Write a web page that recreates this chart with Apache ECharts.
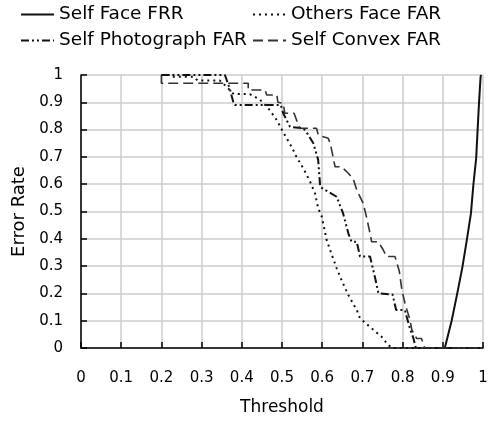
<!DOCTYPE html>
<html>
<head>
<meta charset="utf-8">
<script src="https://cdn.jsdelivr.net/npm/echarts@6/dist/echarts.min.js"></script>
<style>html,body{margin:0;padding:0;background:#fff}#c{width:492px;height:421px}</style>
</head>
<body>
<div id="c"></div>
<script>
var seriesNames = ['Self Face FRR', 'Others Face FAR', 'Self Photograph FAR', 'Self Convex FAR'];
var tickLabelsX = ['0','0.1','0.2','0.3','0.4','0.5','0.6','0.7','0.8','0.9','1'];

var selfFaceFRR = [[0.88,0],[0.905,0],[0.922,0.1],[0.936,0.2],[0.949,0.298],[0.959,0.389],[0.970,0.493],[0.976,0.597],[0.983,0.695],[0.990,0.896],[0.994,0.994],[0.995,1]];

var othersFaceFAR = [[0.2,1],[0.22,1],[0.225,0.994],[0.28,0.994],[0.29,0.98],[0.345,0.98],[0.36,0.96],[0.38,0.93],[0.42,0.93],[0.445,0.91],[0.462,0.884],[0.47,0.87],[0.487,0.835],[0.503,0.79],[0.524,0.737],[0.536,0.70],[0.553,0.658],[0.57,0.609],[0.582,0.567],[0.59,0.512],[0.599,0.481],[0.611,0.396],[0.624,0.341],[0.636,0.292],[0.648,0.249],[0.665,0.194],[0.686,0.139],[0.694,0.109],[0.723,0.072],[0.748,0.041],[0.764,0.011],[0.775,0],[1,0]];

var selfPhotoFAR = [[0.2,1],[0.358,1],[0.37,0.95],[0.379,0.9],[0.383,0.89],[0.497,0.89],[0.503,0.86],[0.52,0.81],[0.524,0.805],[0.553,0.805],[0.561,0.79],[0.578,0.75],[0.59,0.689],[0.595,0.59],[0.607,0.579],[0.636,0.554],[0.652,0.493],[0.665,0.42],[0.673,0.389],[0.686,0.389],[0.694,0.335],[0.719,0.335],[0.731,0.261],[0.74,0.2],[0.744,0.196],[0.775,0.196],[0.784,0.139],[0.806,0.139],[0.81,0.115],[0.817,0.078],[0.827,0.035],[0.833,0],[1,0]];

var selfConvexFAR = [[0.2,1],[0.2,0.97],[0.416,0.97],[0.416,0.945],[0.458,0.945],[0.462,0.927],[0.487,0.927],[0.49,0.9],[0.503,0.896],[0.507,0.86],[0.53,0.86],[0.54,0.82],[0.545,0.805],[0.586,0.805],[0.59,0.78],[0.615,0.768],[0.62,0.75],[0.632,0.664],[0.648,0.664],[0.665,0.64],[0.677,0.62],[0.686,0.579],[0.702,0.53],[0.71,0.481],[0.719,0.42],[0.723,0.389],[0.74,0.389],[0.752,0.359],[0.76,0.335],[0.781,0.335],[0.792,0.28],[0.798,0.215],[0.806,0.163],[0.818,0.105],[0.823,0.066],[0.835,0.035],[0.847,0.035],[0.855,0],[1,0]];

var FONT = 'DejaVu Sans';
var chart = echarts.init(document.getElementById('c'), null, {renderer: 'canvas'});

function legend(name, left, top) {
  return {
    data: [name], left: left, top: top, orient: 'horizontal',
    itemWidth: 33, itemHeight: 14, padding: 0, selectedMode: false,
    itemStyle: {opacity: 0},
    textStyle: {fontFamily: FONT, fontSize: 18.5, color: '#000'}
  };
}

var lineBase = {type: 'line', symbol: 'none', showSymbol: false, animation: false, z: 3};

chart.setOption({
  animation: false,
  textStyle: {fontFamily: FONT},
  legend: [
    legend(seriesNames[0], 20, 5),
    legend(seriesNames[1], 252, 5),
    legend(seriesNames[2], 20, 31),
    legend(seriesNames[3], 252, 31)
  ],
  grid: {left: 81, right: 9, top: 75, bottom: 73, containLabel: false},
  xAxis: {
    type: 'value', min: 0, max: 1, interval: 0.1,
    name: 'Threshold', nameLocation: 'middle', nameGap: 51,
    nameTextStyle: {fontFamily: FONT, fontSize: 17, color: '#000'},
    axisLine: {show: true, onZero: false, lineStyle: {color: '#000', width: 1.5}},
    axisTick: {show: true, inside: true, length: 6, lineStyle: {color: '#000', width: 1.5}},
    axisLabel: {margin: 23, fontFamily: FONT, fontSize: 15, color: '#000',
      formatter: function (v) { return tickLabelsX[Math.round(v * 10)]; }},
    splitLine: {show: true, lineStyle: {color: '#cccccc', width: 1.5}}
  },
  yAxis: {
    type: 'value', min: 0, max: 1, interval: 0.1,
    name: 'Error Rate', nameLocation: 'middle', nameGap: 51, nameRotate: 90,
    nameTextStyle: {fontFamily: FONT, fontSize: 18, color: '#000'},
    axisLine: {show: true, onZero: false, lineStyle: {color: '#000', width: 1.5}},
    axisTick: {show: true, inside: true, length: 6, lineStyle: {color: '#000', width: 1.5}},
    axisLabel: {margin: 18, fontFamily: FONT, fontSize: 15, color: '#000',
      formatter: function (v) { return tickLabelsX[Math.round(v * 10)]; }},
    splitLine: {show: true, lineStyle: {color: '#cccccc', width: 1.5}}
  },
  series: [
    Object.assign({}, lineBase, {name: seriesNames[0], data: selfFaceFRR,
      lineStyle: {color: '#111', width: 2, type: 'solid'}, itemStyle: {color: '#111'}}),
    Object.assign({}, lineBase, {name: seriesNames[1], data: othersFaceFAR,
      lineStyle: {color: '#111', width: 2, type: [2, 4]}, itemStyle: {color: '#111'}}),
    Object.assign({}, lineBase, {name: seriesNames[2], data: selfPhotoFAR,
      lineStyle: {color: '#111', width: 2, type: [8, 3, 2, 3, 2, 3]}, itemStyle: {color: '#111'}}),
    Object.assign({}, lineBase, {name: seriesNames[3], data: selfConvexFAR,
      lineStyle: {color: '#333', width: 1.6, type: [10, 5]}, itemStyle: {color: '#333'}})
  ]
});
</script>
</body>
</html>
